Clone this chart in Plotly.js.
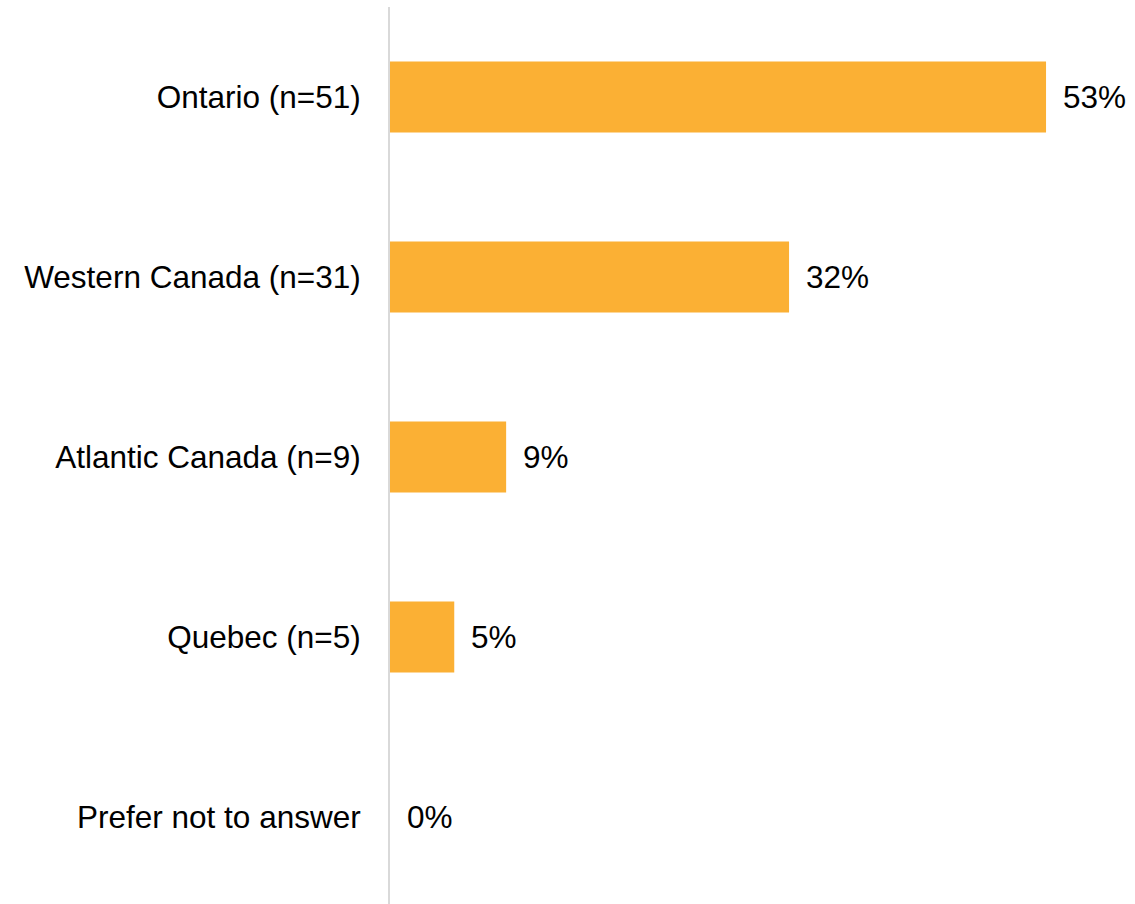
<!DOCTYPE html>
<html>
<head>
<meta charset="utf-8">
<script src="https://cdn.plot.ly/plotly-3.0.1.min.js"></script>
<style>html,body{margin:0;padding:0;background:#fff;}#chart{width:1135px;height:904px;}</style>
</head>
<body>
<div id="chart"></div>
<script>
const categories = ["Ontario (n=51)", "Western Canada (n=31)", "Atlantic Canada (n=9)", "Quebec (n=5)", "Prefer not to answer"];
const values = [53.1, 32.3, 9.4, 5.2, 0];
const valueLabels = ["53%", "32%", "9%", "5%", "0%"];

const FONT = "Liberation Sans, Arial, sans-serif";

const trace = {
  type: "bar",
  orientation: "h",
  x: values,
  y: categories,
  marker: {color: "#FBB034"},
  hoverinfo: "none"
};

const annotations = categories.map((c, i) => ({
  x: values[i], y: c, xref: "x", yref: "y",
  text: valueLabels[i], showarrow: false,
  xanchor: "left", yanchor: "middle", xshift: 15,
  font: {family: FONT, size: 31.5, color: "#000"}
}));

const layout = {
  width: 1135, height: 904,
  margin: {l: 390, r: 0, t: 7, b: 0, pad: 0},
  paper_bgcolor: "#fff", plot_bgcolor: "#fff",
  showlegend: false,
  bargap: 0.606,
  font: {family: FONT, size: 31.5, color: "#000"},
  xaxis: {range: [0, 60.3], showgrid: false, zeroline: false, showticklabels: false, showline: false, fixedrange: true},
  yaxis: {
    type: "category", range: [4.483, -0.5], showgrid: false, zeroline: false,
    showline: true, linecolor: "#D9D9D9", linewidth: 2,
    ticks: "", ticklabelstandoff: 21,
    tickfont: {family: FONT, size: 31.5, color: "#000"}
  },
  annotations: annotations
};

Plotly.newPlot("chart", [trace], layout, {displayModeBar: false, staticPlot: true});
</script>
</body>
</html>
